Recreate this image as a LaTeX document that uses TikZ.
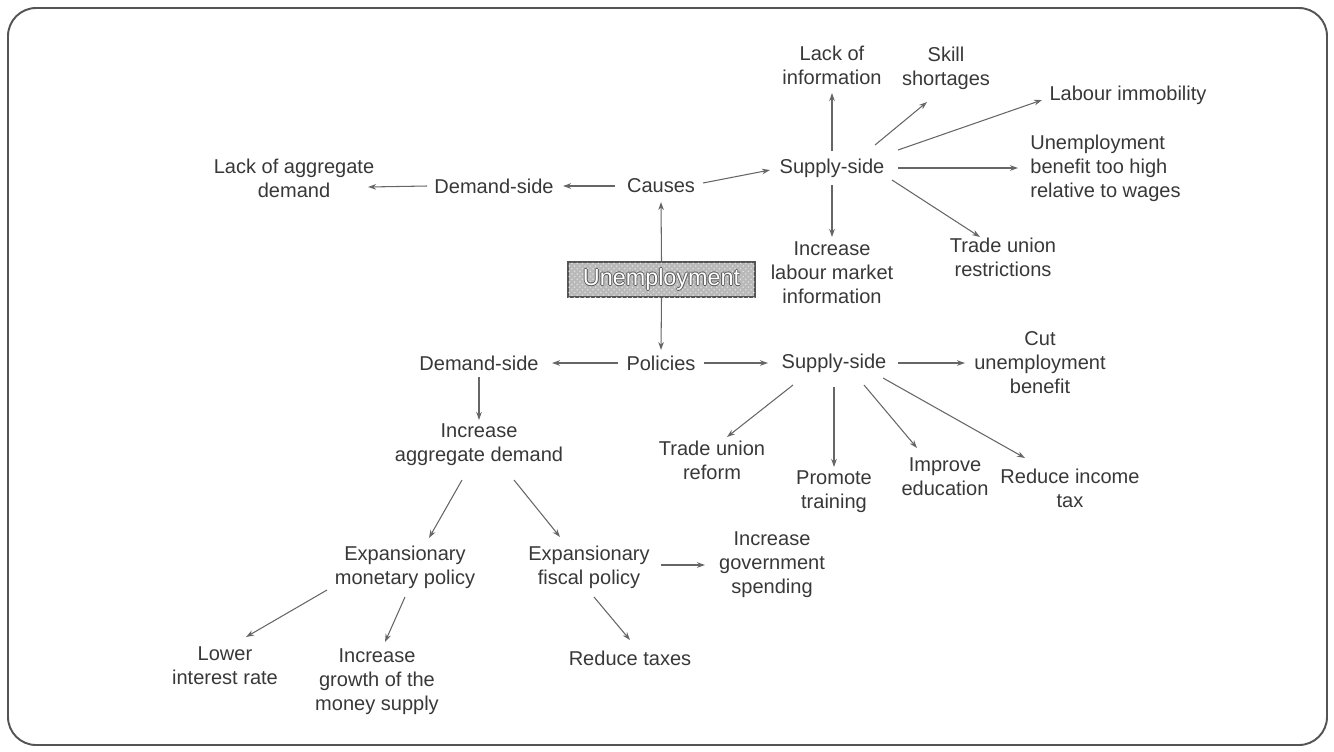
\documentclass[tikz,border=0pt]{standalone}
\usepackage{fontspec}
\setmainfont{Liberation Sans}
\usetikzlibrary{arrows.meta,calc,patterns}

\definecolor{ink}{gray}{0.22}
\definecolor{wire}{gray}{0.40}
\definecolor{rim}{gray}{0.33}

% white lettering with a thin dark rim, as on the central box
\newcommand\rimmedword[1]{%
  \makebox[0pt][l]{\hspace*{-0.5pt}\textcolor{rim}{#1}}%
  \makebox[0pt][l]{\hspace*{0.5pt}\textcolor{rim}{#1}}%
  \makebox[0pt][l]{\raisebox{0.5pt}{\textcolor{rim}{#1}}}%
  \makebox[0pt][l]{\raisebox{-0.5pt}{\textcolor{rim}{#1}}}%
  \textcolor{white}{#1}}

\begin{document}
\begin{tikzpicture}[x=0.02cm,y=-0.02cm,
  lbl/.style={text=ink, align=center, inner sep=0pt,
              font=\fontsize{11.4}{13.7}\selectfont},
  arr/.style={draw=wire, line width=0.6pt,
              -{Stealth[length=4.6pt,width=3.2pt,open]}},
  hub/.style={draw=rim, line width=0.8pt, fill=gray!55,
              postaction={pattern=crosshatch dots, pattern color=gray!25},
              minimum width=3.74cm, minimum height=0.7cm, inner sep=0pt,
              font=\fontsize{13.3}{15}\selectfont}]
\useasboundingbox (0,0) rectangle (1334,751);

% outer frame
\draw[rim, line width=1.1pt, rounded corners=16pt] (8,8) rectangle (1327,745);

% central topic
\node[hub] (unemp) at (661.5,279.5) {\rimmedword{Unemployment}};

% ---------------- causes ----------------
\node[lbl] (causes)     at (661,186)  {Causes};
\node[lbl] (demC)       at (494,186)  {Demand-side};
\node[lbl] (lackAD)     at (294,178)  {Lack of aggregate\\demand};
\node[lbl] (supC)       at (832,168)  {Supply-side};
\node[lbl] (lackInfo)   at (832,65)   {Lack of\\information};
\node[lbl] (skill)      at (946,68)   {Skill\\shortages};
\node[lbl] (labImm)     at (1128,95)  {Labour immobility};
\node[lbl, align=left, anchor=west] (unempBen) at (1030,168)
      {Unemployment\\benefit too high\\relative to wages};
\node[lbl] (incInfo)    at (832,273)  {Increase\\labour market\\information};
\node[lbl] (tradeRestr) at (1003,257) {Trade union\\restrictions};

% ---------------- policies ----------------
\node[lbl] (policies)   at (661,363)  {Policies};
\node[lbl] (demP)       at (479,363)  {Demand-side};
\node[lbl] (supP)       at (834,363)  {Supply-side};
\node[lbl] (cutBen)     at (1040,363) {Cut\\unemployment\\benefit};
\node[lbl] (tradeRef)   at (712,460)  {Trade union\\reform};
\node[lbl] (promote)    at (834,492)  {Promote\\training};
\node[lbl] (improve)    at (945,477)  {Improve\\education};
\node[lbl] (reduceInc)  at (1070,488) {Reduce income\\tax};
\node[lbl] (incAD)      at (479,445)  {Increase\\aggregate demand};
\node[lbl] (expMon)     at (405,567)  {Expansionary\\monetary policy};
\node[lbl] (expFis)     at (589,567)  {Expansionary\\fiscal policy};
\node[lbl] (incGov)     at (772,565)  {Increase\\government\\spending};
\node[lbl] (lowerIR)    at (225,666)  {Lower\\interest rate};
\node[lbl] (incGrowth)  at (377,682)  {Increase\\growth of the\\money supply};
\node[lbl] (reduceTax)  at (630,658)  {Reduce taxes};

% ---------------- connectors ----------------
\draw[arr] (unemp.north) -- ($(causes)+(0,16)$);
\draw[arr] ($(causes)+(-46,0)$) -- ($(demC)+(69,0)$);
\draw[arr] ($(demC)+(-67,0)$) -- ($(lackAD)+(74,9)$);
\draw[arr] ($(causes)+(42,-3)$) -- ($(supC)+(-62,2)$);

\draw[arr] ($(supC)+(0,-17)$) -- ($(lackInfo)+(0,28)$);
\draw[arr] ($(supC)+(43,-23)$) -- ($(skill)+(-19,34)$);
\draw[arr] ($(supC)+(66,-18)$) -- ($(labImm)+(-86,5)$);
\draw[arr] ($(supC)+(66,0)$) -- ($(unempBen.west)+(-12,0)$);
\draw[arr] ($(supC)+(0,17)$) -- ($(incInfo)+(0,-36)$);
\draw[arr] ($(supC)+(60,12)$) -- ($(tradeRestr)+(-23,-20)$);

\draw[arr] (unemp.south) -- ($(policies)+(0,-13)$);
\draw[arr] ($(policies)+(-43,0)$) -- ($(demP)+(73,0)$);
\draw[arr] ($(policies)+(43,0)$) -- ($(supP)+(-66,0)$);

\draw[arr] ($(supP)+(64,0)$) -- ($(cutBen)+(-75,0)$);
\draw[arr] ($(supP)+(-41,22)$) -- ($(tradeRef)+(15,-23)$);
\draw[arr] ($(supP)+(0,24)$) -- ($(promote)+(0,-25)$);
\draw[arr] ($(supP)+(30,22)$) -- ($(improve)+(-28,-29)$);
\draw[arr] ($(supP)+(49,15)$) -- ($(reduceInc)+(-45,-30)$);

\draw[arr] ($(demP)+(0,14)$) -- ($(incAD)+(0,-25)$);
\draw[arr] ($(incAD)+(-17,35)$) -- ($(expMon)+(24,-29)$);
\draw[arr] ($(incAD)+(35,35)$) -- ($(expFis)+(-29,-30)$);
\draw[arr] ($(expFis)+(72,-2)$) -- ($(incGov)+(-67,0)$);
\draw[arr] ($(expMon)+(-78,23)$) -- ($(lowerIR)+(21,-29)$);
\draw[arr] ($(expMon)+(0,30)$) -- ($(incGrowth)+(8,-40)$);
\draw[arr] ($(expFis)+(5,30)$) -- ($(reduceTax)+(0,-18)$);
\end{tikzpicture}
\end{document}
